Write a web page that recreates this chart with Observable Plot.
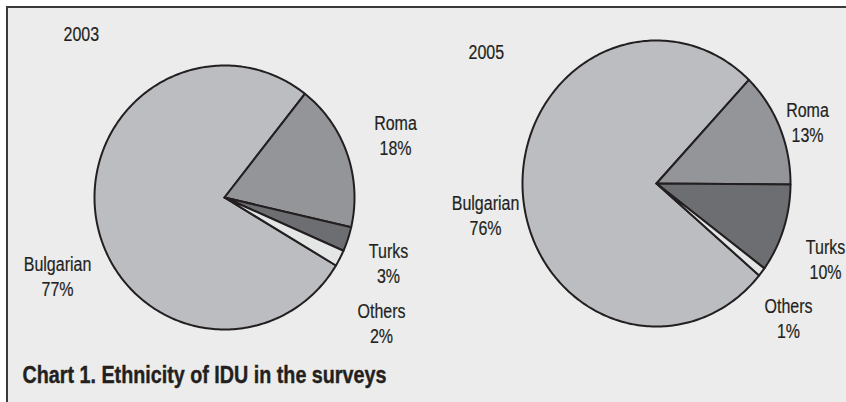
<!DOCTYPE html>
<html><head><meta charset="utf-8">
<script src="https://cdn.jsdelivr.net/npm/d3@7"></script>
<script src="https://cdn.jsdelivr.net/npm/@observablehq/plot@0.6"></script>
<style>
html,body{margin:0;padding:0;background:#fff;overflow:hidden}
#wrap{position:relative;width:846px;height:402px;background:#fff;overflow:hidden}
#frame{position:absolute;left:6px;top:6px;width:850px;height:410px;border-top:2px solid #3a3a3a;border-left:2px solid #3a3a3a;background:#ebeceb;}
#chart{position:absolute;left:0;top:0}
</style></head><body><div id="wrap"><div id="frame"></div><div id="chart"></div></div>
<script>
// ---- data ----
const categories = ["Bulgarian", "Roma", "Turks", "Others"];
const years = ["2003", "2005"];
const values2003 = [77, 18, 3, 2];
const values2005 = [76, 13, 10, 1];
const captionText = "Chart 1. Ethnicity of IDU in the surveys";

// ---- styling / layout ----
const colors = ["#bcbdc0", "#939598", "#6d6e71", "#e4e6e6"];
const font = "'Liberation Sans',Arial,sans-serif";
const narrow = 0.8;
const pieLayout = [
  {cx: 224, cy: 197, rx: 130, ry: 132, start: 121},
  {cx: 656, cy: 183, rx: 134, ry: 143, start: 130}
];
const yearPos = [{x: 63, y: 34}, {x: 468, y: 52}];
const labelPos = [
  [{x: 57, y: 275}, {x: 395, y: 134}, {x: 388, y: 262}, {x: 381, y: 322}],
  [{x: 485, y: 214}, {x: 807, y: 121}, {x: 825, y: 258}, {x: 788, y: 317}]
];

const allValues = [values2003, values2005];
const slices = [];
const labels = [];
const yearLabels = [];
years.forEach((yr, p) => {
  const L = pieLayout[p];
  const vals = allValues[p];
  const total = d3.sum(vals);
  let a0 = L.start;
  categories.forEach((cat, i) => {
    const span = vals[i] / total * 360;
    const key = yr + "-" + cat;
    slices.push({key, cat, x: L.cx, y: L.cy});
    const n = Math.max(2, Math.ceil(span));
    for (let k = 0; k <= n; k++) {
      const a = (a0 + span * k / n) * Math.PI / 180;
      slices.push({key, cat, x: L.cx + L.rx * Math.sin(a), y: L.cy - L.ry * Math.cos(a)});
    }
    a0 += span;
    labels.push({text: cat + "\n" + vals[i] + "%", x: labelPos[p][i].x, y: labelPos[p][i].y});
  });
  yearLabels.push({text: yr, x: yearPos[p].x, y: yearPos[p].y});
});

const ink = "#231f20";
const chart = Plot.plot({
  width: 846, height: 402, margin: 0,
  x: {domain: [0, 846], range: [0, 846], axis: null},
  y: {domain: [0, 402], range: [0, 402], axis: null},
  color: {domain: categories, range: colors},
  style: {background: "transparent", fontFamily: font},
  marks: [
    Plot.line(slices, {x: "x", y: "y", z: "key", fill: "cat", stroke: ink, strokeWidth: 2, curve: "linear-closed", strokeLinejoin: "round"}),
    Plot.text(labels, {x: "x", y: "y", text: "text", fontSize: 20, lineHeight: 1.25, fill: ink, stroke: ink, strokeWidth: 0.2, fontFamily: font}),
    Plot.text(yearLabels, {x: "x", y: "y", text: "text", fontSize: 20, textAnchor: "start", fill: ink, stroke: ink, strokeWidth: 0.2, fontFamily: font}),
    Plot.text([captionText], {x: () => 22, y: () => 375, text: d => d, fontSize: 23.5, fontWeight: "bold", textAnchor: "start", fill: ink, stroke: ink, strokeWidth: 0.4, fontFamily: font})
  ]
});
// emulate a condensed typeface by narrowing each text horizontally around its anchor
chart.querySelectorAll("text").forEach(t => {
  const fw = t.closest("[font-weight]");
  const s = fw && fw.getAttribute("font-weight") === "bold" ? 0.84 : narrow;
  const tr = t.getAttribute("transform");
  if (tr) {
    t.setAttribute("transform", tr + ` scale(${s},1)`);
  } else {
    const x = +t.getAttribute("x") || 0, y = +t.getAttribute("y") || 0;
    t.setAttribute("transform", `translate(${x},${y}) scale(${s},1)`);
    t.setAttribute("x", 0); t.setAttribute("y", 0);
    t.querySelectorAll("tspan[x]").forEach(sp => sp.setAttribute("x", 0));
  }
});
document.getElementById("chart").appendChild(chart);
</script></body></html>
